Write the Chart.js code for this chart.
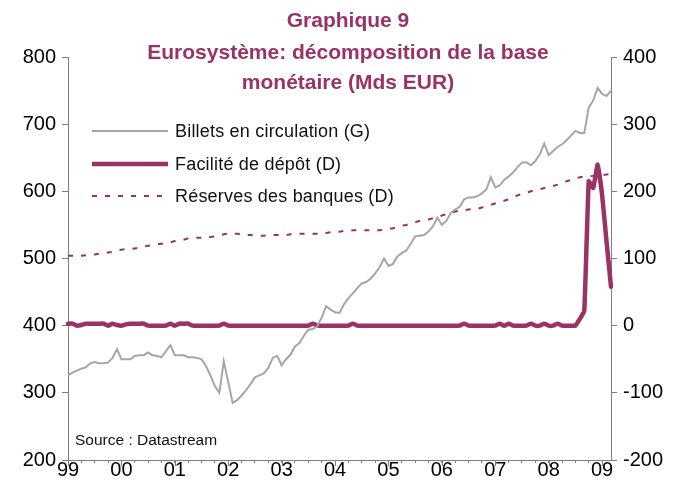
<!DOCTYPE html>
<html><head><meta charset="utf-8">
<script src="https://cdn.jsdelivr.net/npm/chart.js@4/dist/chart.umd.min.js"></script>
<style>
html,body{margin:0;padding:0;background:#fff;}
#wrap{position:relative;width:673px;height:499px;overflow:hidden;font-family:"Liberation Sans",Arial,sans-serif;}
#c{position:absolute;left:0;top:0;}
.t{position:absolute;left:0;width:696px;text-align:center;color:#993366;font-weight:bold;font-size:21px;line-height:24px;white-space:nowrap;}
.lg{position:absolute;left:175px;font-size:18px;line-height:20px;letter-spacing:0.2px;color:#111;white-space:nowrap;}
.src{position:absolute;left:75px;top:431px;font-size:15.5px;line-height:18px;color:#111;white-space:nowrap;}
svg{position:absolute;left:0;top:0;}
</style></head>
<body>
<div id="wrap">
<canvas id="c" width="673" height="499"></canvas>
<div class="t" style="top:8px">Graphique 9</div>
<div class="t" style="top:40px">Eurosystème: décomposition de la base</div>
<div class="t" style="top:70px">monétaire (Mds EUR)</div>
<svg width="673" height="499">
<line x1="92" y1="131" x2="168" y2="131" stroke="#A6A6A6" stroke-width="2"/>
<line x1="92" y1="164" x2="168" y2="164" stroke="#993366" stroke-width="4.5"/>
<line x1="92" y1="196" x2="168" y2="196" stroke="#993366" stroke-width="2" stroke-dasharray="5 8"/>
</svg>
<div class="lg" style="top:121px">Billets en circulation (G)</div>
<div class="lg" style="top:154px">Facilité de dépôt (D)</div>
<div class="lg" style="top:186px">Réserves des banques (D)</div>
<div class="src">Source : Datastream</div>
</div>
<script>
// Years shown on the x axis (monthly data Jan 1999 - Mar 2009)
const yearLabels = ['99','00','01','02','03','04','05','06','07','08','09'];
const monthsInLastYear = 3;

// Billets en circulation (G), Mds EUR, monthly
const billets = [
 326,330,333,336,338,344,346,344,344,345,352,365,
 350,350,350,355,356,356,360,356,355,353,362,371,
 356,356,356,353,353,352,350,340,326,310,300,347,
 316,285,289,296,304,313,323,326,329,337,352,355,
 341,350,357,369,374,385,394,395,399,412,429,424,
 420,419,432,441,448,456,463,465,470,478,487,500,
 489,492,503,508,512,522,533,534,535,540,548,561,
 550,556,568,573,577,588,591,591,593,597,603,621,
 606,609,617,622,628,636,643,643,639,645,655,671,
 654,660,666,670,676,683,690,687,687,725,735,754,
 745,742,750
];

// Facilité de dépôt (D), Mds EUR, monthly
const facilite = [
 3,3,0,1,3,3,3,3,3,0,3,1,
 0,2,3,3,3,3,0,0,0,0,0,3,
 0,3,3,3,0,0,0,0,0,0,0,3,
 0,0,0,0,0,0,0,0,0,0,0,0,
 0,0,0,0,0,0,0,3,0,0,0,0,
 0,0,0,0,3,0,0,0,0,0,0,0,
 0,0,0,0,0,0,0,0,0,0,0,0,
 0,0,0,0,0,3,0,0,0,0,0,0,
 0,3,0,3,0,0,0,0,3,0,0,3,
 0,0,3,0,0,0,0,10,22,215,205,240,
 195,125,58
];

// Réserves des banques (D), Mds EUR, monthly
const reserves = [
 104,104,104,104,105,106,106,107,108,109,110,112,
 113,114,114,115,116,118,119,120,121,122,123,124,
 126,127,128,130,130,131,131,131,132,133,134,136,
 137,137,137,136,135,135,134,134,134,135,135,135,
 135,135,136,136,137,137,137,137,137,138,138,139,
 140,140,141,141,142,142,142,142,142,142,142,143,
 144,145,147,149,150,152,154,156,157,158,160,162,
 164,166,168,170,171,172,173,174,174,176,178,180,
 182,184,186,188,191,194,196,198,200,201,203,205,
 206,208,210,213,215,217,219,221,222,222,223,224,
 224,225,226
];

// Month category labels built from the year labels
const months = [];
yearLabels.forEach((y, yi) => {
  const n = (yi === yearLabels.length - 1) ? monthsInLastYear : 12;
  for (let m = 0; m < n; m++) months.push(y + '-' + (m + 1));
});

const PURPLE = '#993366';
const GREY = '#A6A6A6';
const AXIS = '#7f7f7f';
const FONT = "'Liberation Sans', Arial, sans-serif";

const majorTicks = {
  id: 'majorTicks',
  afterDraw(chart) {
    const sx = chart.scales.x;
    const ctx = chart.ctx;
    ctx.save();
    ctx.strokeStyle = AXIS;
    ctx.lineWidth = 1;
    months.forEach((lab, i) => {
      if (i % 12 === 0) {
        const px = Math.round(sx.getPixelForValue(i)) + 0.5;
        ctx.beginPath();
        ctx.moveTo(px, sx.top);
        ctx.lineTo(px, sx.top + 6);
        ctx.stroke();
      }
    });
    ctx.restore();
  }
};

new Chart(document.getElementById('c'), {
  type: 'line',
  data: {
    labels: months,
    datasets: [
      { label: 'Billets en circulation (G)', data: billets, yAxisID: 'yL',
        borderColor: GREY, borderWidth: 2, pointRadius: 0, tension: 0, fill: false },
      { label: 'Facilité de dépôt (D)', data: facilite, yAxisID: 'yR',
        borderColor: PURPLE, borderWidth: 4.5, pointRadius: 0, tension: 0.1, fill: false,
        borderJoinStyle: 'round', borderCapStyle: 'round' },
      { label: 'Réserves des banques (D)', data: reserves, yAxisID: 'yR',
        borderColor: PURPLE, borderWidth: 2, borderDash: [5, 8], pointRadius: 0, tension: 0, fill: false }
    ]
  },
  options: {
    responsive: false,
    animation: false,
    devicePixelRatio: 1,
    layout: { padding: { top: 57, left: 0, right: 0, bottom: 0 } },
    plugins: { legend: { display: false }, title: { display: false }, tooltip: { enabled: false } },
    scales: {
      x: {
        type: 'category',
        offset: false,
        grid: { drawOnChartArea: false, drawTicks: true, tickLength: 3, color: AXIS },
        border: { color: AXIS, width: 1 },
        ticks: {
          autoSkip: false, maxRotation: 0, minRotation: 0, padding: -5,
          color: '#000', font: { family: FONT, size: 20 },
          callback: function (v, i) {
            if (i % 3 !== 0) return null;
            return (i % 12 === 0) ? yearLabels[i / 12] : '';
          }
        },
        afterFit(s) { s.height = 39; }
      },
      yL: {
        position: 'left', min: 200, max: 800,
        grid: { drawOnChartArea: false, drawTicks: true, tickLength: 6, color: AXIS },
        border: { color: AXIS, width: 1 },
        ticks: { stepSize: 100, padding: 6, color: '#000', font: { family: FONT, size: 20 } },
        afterFit(s) { s.width = 68; }
      },
      yR: {
        position: 'right', min: -200, max: 400,
        grid: { drawOnChartArea: false, drawTicks: true, tickLength: 6, color: AXIS },
        border: { color: AXIS, width: 1 },
        ticks: { stepSize: 100, padding: 6, color: '#000', font: { family: FONT, size: 20 } },
        afterFit(s) { s.width = 62; }
      }
    }
  },
  plugins: [majorTicks]
});
</script>
</body></html>
